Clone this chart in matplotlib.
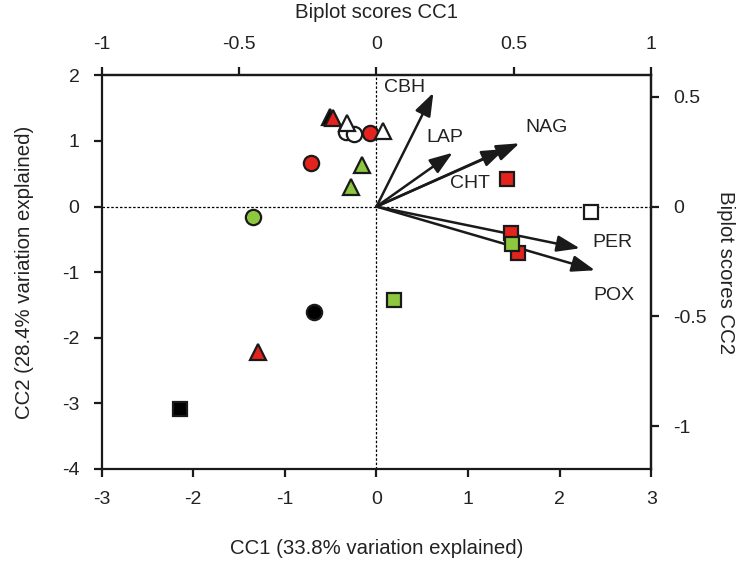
import numpy as np
import matplotlib
matplotlib.use("Agg")
import matplotlib.pyplot as plt

plt.rcParams['font.family'] = ['Liberation Sans', 'DejaVu Sans']
plt.rcParams['axes.unicode_minus'] = False

red = '#e3231c'
green = '#8dc63f'

# site scores (CC1, CC2), grouped by marker style
circ_red_x = [-0.71, -0.07]
circ_red_y = [0.67, 1.12]
circ_open_x = [-0.33, -0.25]
circ_open_y = [1.13, 1.10]
circ_green_x = [-1.35]
circ_green_y = [-0.16]
circ_black_x = [-0.68]
circ_black_y = [-1.61]

tri_black_x = [-0.51]
tri_black_y = [1.37]
tri_red_x = [-0.48, -1.29]
tri_red_y = [1.35, -2.21]
tri_open_x = [-0.32, 0.07]
tri_open_y = [1.28, 1.16]
tri_green_x = [-0.16, -0.28]
tri_green_y = [0.63, 0.30]

sq_red_x = [1.42, 1.47, 1.54]
sq_red_y = [0.42, -0.40, -0.71]
sq_green_x = [0.19, 1.48]
sq_green_y = [-1.43, -0.57]
sq_open_x = [2.34]
sq_open_y = [-0.085]
sq_black_x = [-2.15]
sq_black_y = [-3.09]

# biplot scores of enzymes
enzymes = ['CBH', 'LAP', 'NAG', 'CHT', 'PER', 'POX']
bp_x = [0.207, 0.277, 0.52, 0.467, 0.74, 0.795]
bp_y = [0.518, 0.245, 0.288, 0.262, -0.19, -0.29]
# label positions in CC1/CC2 units
lab_x = [0.31, 0.75, 1.86, 1.02, 2.58, 2.59]
lab_y = [1.82, 1.05, 1.20, 0.35, -0.55, -1.36]

fx = 3.0   # CC1 per biplot unit
fy = 3.35  # CC2 per biplot unit

fig = plt.figure(figsize=(7.56, 5.67), dpi=100)
ax = fig.add_axes([0.1345, 0.173, 0.727, 0.694])

ax.axhline(0, color='black', lw=0.9, ls=(0, (2, 1.5)), zorder=1)
ax.axvline(0, color='black', lw=0.9, ls=(0, (2, 1.5)), zorder=1)

for i, name in enumerate(enzymes):
    ax.annotate('', xy=(bp_x[i] * fx, bp_y[i] * fy), xytext=(0, 0),
                arrowprops=dict(arrowstyle='-|>,head_length=0.7,head_width=0.25',
                                color='#1a1a1a', lw=1.8,
                                mutation_scale=20, shrinkA=0, shrinkB=0),
                zorder=2)
    ax.text(lab_x[i], lab_y[i], name, fontsize=14, ha='center',
            va='center', color='#222222')

kw = dict(linestyle='none', markeredgecolor='#1a1a1a', markeredgewidth=1.6, zorder=3)
ax.plot(circ_red_x, circ_red_y, 'o', ms=11, markerfacecolor=red, **kw)
ax.plot(circ_open_x, circ_open_y, 'o', ms=11, markerfacecolor='white', **kw)
ax.plot(circ_green_x, circ_green_y, 'o', ms=11, markerfacecolor=green, **kw)
ax.plot(circ_black_x, circ_black_y, 'o', ms=11, markerfacecolor='black', **kw)
ax.plot(tri_black_x, tri_black_y, '^', ms=11, markerfacecolor='black', **kw)
ax.plot(tri_red_x, tri_red_y, '^', ms=11, markerfacecolor=red, **kw)
ax.plot(tri_open_x, tri_open_y, '^', ms=11, markerfacecolor='white', **kw)
ax.plot(tri_green_x, tri_green_y, '^', ms=11, markerfacecolor=green, **kw)
ax.plot(sq_red_x, sq_red_y, 's', ms=9.5, markerfacecolor=red, **kw)
ax.plot(sq_green_x, sq_green_y, 's', ms=9.5, markerfacecolor=green, **kw)
ax.plot(sq_open_x, sq_open_y, 's', ms=9.5, markerfacecolor='white', **kw)
ax.plot(sq_black_x, sq_black_y, 's', ms=9.5, markerfacecolor='black', **kw)

ax.set_xlim(-3, 3)
ax.set_ylim(-4, 2)
ax.set_xticks(np.arange(-3, 4, 1))
ax.set_yticks(np.arange(-4, 3, 1))
ax.set_xlabel('CC1 (33.8% variation explained)', fontsize=14.7, labelpad=22, color='#222222')
ax.set_ylabel('CC2 (28.4% variation explained)', fontsize=14.7, labelpad=20, color='#222222')

secx = ax.secondary_xaxis('top', functions=(lambda x: x / fx, lambda x: x * fx))
secx.set_xticks([-1, -0.5, 0, 0.5, 1])
secx.set_xticklabels(['-1', '-0.5', '0', '0.5', '1'])
secx.set_xlabel('Biplot scores CC1', fontsize=14.7, labelpad=13, color='#222222')
secy = ax.secondary_yaxis('right', functions=(lambda y: y / fy, lambda y: y * fy))
secy.set_yticks([-1, -0.5, 0, 0.5])
secy.set_yticklabels(['-1', '-0.5', '0', '0.5'])
secy.set_ylabel('Biplot scores CC2', fontsize=14.7, rotation=270, labelpad=20, color='#222222')

for a in (ax, secx, secy):
    a.tick_params(direction='out', length=6, width=1.6, labelsize=14, pad=10,
                  colors='#1a1a1a', labelcolor='#222222')
    for s in a.spines.values():
        s.set_linewidth(1.6)
        s.set_color('#1a1a1a')

fig.savefig('out.png', dpi=100)
